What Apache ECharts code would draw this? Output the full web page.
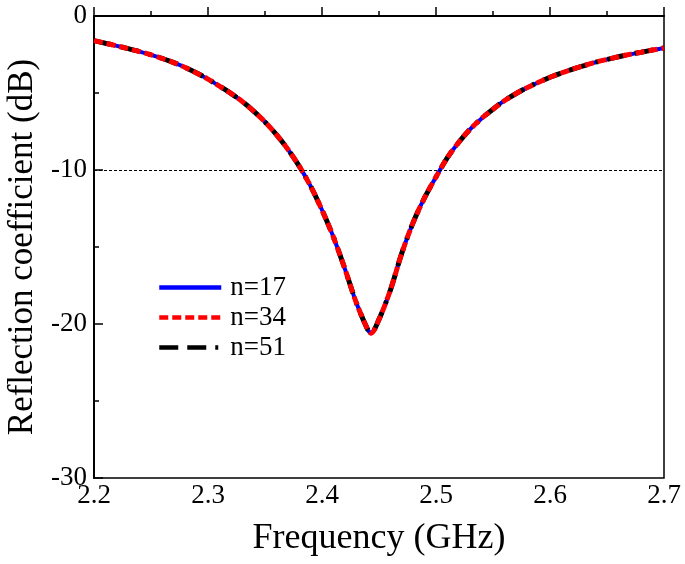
<!DOCTYPE html>
<html>
<head>
<meta charset="utf-8">
<script src="https://cdn.jsdelivr.net/npm/echarts@6/dist/echarts.min.js"></script>
<style>html,body{margin:0;padding:0;background:#fff;}#c{width:685px;height:564px;}</style>
</head>
<body>
<div id="c"></div>
<script>
const freq = [2.20,2.21,2.22,2.23,2.24,2.25,2.26,2.27,2.28,2.29,2.30,2.31,2.32,2.33,2.34,2.35,2.36,2.37,2.38,2.39,2.40,2.41,2.42,2.43,2.44,2.443,2.45,2.46,2.47,2.48,2.49,2.50,2.51,2.52,2.53,2.54,2.55,2.56,2.57,2.58,2.59,2.60,2.61,2.62,2.63,2.64,2.65,2.66,2.67,2.68,2.69,2.70];
const n17 = [-1.60,-1.77,-1.94,-2.12,-2.31,-2.52,-2.76,-3.03,-3.34,-3.70,-4.10,-4.55,-5.02,-5.55,-6.17,-6.88,-7.70,-8.65,-9.75,-11.05,-12.60,-14.35,-16.40,-18.60,-20.35,-20.60,-19.70,-17.80,-15.40,-13.40,-11.80,-10.45,-9.20,-8.20,-7.35,-6.65,-6.05,-5.50,-5.05,-4.65,-4.30,-3.98,-3.70,-3.45,-3.22,-3.00,-2.82,-2.65,-2.49,-2.35,-2.21,-2.08];
const n34 = [-1.60,-1.77,-1.94,-2.12,-2.31,-2.52,-2.76,-3.03,-3.34,-3.70,-4.10,-4.55,-5.02,-5.55,-6.17,-6.88,-7.70,-8.65,-9.75,-11.05,-12.60,-14.35,-16.40,-18.60,-20.35,-20.60,-19.70,-17.80,-15.40,-13.40,-11.80,-10.45,-9.20,-8.20,-7.35,-6.65,-6.05,-5.50,-5.05,-4.65,-4.30,-3.98,-3.70,-3.45,-3.22,-3.00,-2.82,-2.65,-2.49,-2.35,-2.21,-2.08];
const n51 = [-1.60,-1.77,-1.94,-2.12,-2.31,-2.52,-2.76,-3.03,-3.34,-3.70,-4.10,-4.55,-5.02,-5.55,-6.17,-6.88,-7.70,-8.65,-9.75,-11.05,-12.60,-14.35,-16.40,-18.60,-20.35,-20.60,-19.70,-17.80,-15.40,-13.40,-11.80,-10.45,-9.20,-8.20,-7.35,-6.65,-6.05,-5.50,-5.05,-4.65,-4.30,-3.98,-3.70,-3.45,-3.22,-3.00,-2.82,-2.65,-2.49,-2.35,-2.21,-2.08];
const seriesNames = ['n=17','n=34','n=51'];
const refLevel = -10;

const font = 'Liberation Serif';
const pair = (ys) => freq.map((f, i) => [f, ys[i]]);
const chart = echarts.init(document.getElementById('c'), null, {renderer: 'canvas'});
chart.setOption({
  animation: false,
  backgroundColor: '#fff',
  textStyle: {fontFamily: font, color: '#000'},
  grid: {left: 94, right: 21, top: 16, bottom: 86, containLabel: false, outerBoundsMode: 'none',
         show: true, borderColor: '#000', borderWidth: 1.5, backgroundColor: 'transparent'},
  legend: {
    left: 157, top: 274, padding: 0, orient: 'vertical', itemWidth: 62, itemHeight: 10, itemGap: 3,
    itemStyle: {opacity: 0},
    lineStyle: {width: 4.5},
    textStyle: {fontFamily: font, fontSize: 27, lineHeight: 24, color: '#000', padding: [0, 0, 0, 4]},
    data: seriesNames
  },
  xAxis: {
    type: 'value', min: 2.2, max: 2.7, interval: 0.1,
    name: 'Frequency (GHz)', nameLocation: 'middle', nameGap: 43,
    nameTextStyle: {fontFamily: font, fontSize: 36, color: '#000'},
    axisLine: {lineStyle: {color: '#000', width: 2}},
    axisTick: {inside: true, length: 9, lineStyle: {color: '#000', width: 1.5}},
    minorTick: {show: true, splitNumber: 2, length: 5, lineStyle: {color: '#000', width: 1.5}},
    splitLine: {show: false},
    axisLabel: {fontFamily: font, fontSize: 27, color: '#000', margin: 4, formatter: v => v.toFixed(1)}
  },
  yAxis: {
    type: 'value', min: -30, max: 0, interval: 10,
    name: 'Reflection coefficient (dB)', nameLocation: 'middle', nameGap: 54,
    nameTextStyle: {fontFamily: font, fontSize: 35, color: '#000'},
    axisLine: {lineStyle: {color: '#000', width: 2}},
    axisTick: {inside: true, length: 9, lineStyle: {color: '#000', width: 1.5}},
    minorTick: {show: true, splitNumber: 2, length: 5, lineStyle: {color: '#000', width: 1.5}},
    splitLine: {show: false},
    axisLabel: {fontFamily: font, fontSize: 27, color: '#000', margin: 7}
  },
  series: [
    {name: seriesNames[0], type: 'line', data: pair(n17), smooth: 0.3, showSymbol: false, symbol: 'none',
     lineStyle: {color: '#0000ff', width: 4, type: 'solid'}, itemStyle: {color: '#0000ff'}, z: 2,
     markLine: {silent: true, symbol: 'none', label: {show: false}, lineStyle: {color: '#000', width: 1.2, type: [3, 2]},
       data: [{yAxis: refLevel}]}},
    {name: seriesNames[2], type: 'line', data: pair(n51), smooth: 0.3, showSymbol: false, symbol: 'none',
     lineStyle: {color: '#000', width: 5, type: [19, 9, 19, 9, 3, 9]}, itemStyle: {color: '#000'}, z: 3},
    {name: seriesNames[1], type: 'line', data: pair(n34), smooth: 0.3, showSymbol: false, symbol: 'none',
     lineStyle: {color: '#ff0000', width: 5, type: [9, 4]}, itemStyle: {color: '#ff0000'}, z: 4}
  ]
});
</script>
</body>
</html>
